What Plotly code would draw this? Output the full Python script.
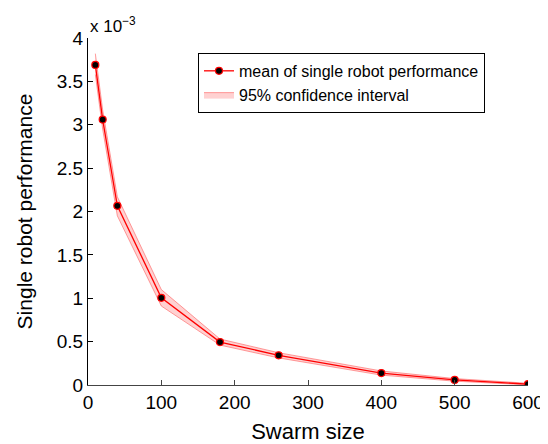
import plotly.graph_objects as go

swarm_size = [10, 20, 40, 100, 180, 260, 400, 500, 600]
mean_perf = [3.69, 3.06, 2.065, 1.005, 0.495, 0.342, 0.138, 0.058, 0.010]
ci_upper = [3.82, 3.17, 2.17, 1.10, 0.530, 0.372, 0.162, 0.074, 0.020]
ci_lower = [3.58, 2.95, 1.95, 0.91, 0.460, 0.312, 0.114, 0.044, 0.002]

FONT = "Liberation Sans, Arial, sans-serif"

fig = go.Figure()
band_x = swarm_size + swarm_size[::-1]
band_y = ci_upper + ci_lower[::-1]
fig.add_trace(go.Scatter(
    x=band_x, y=band_y, fill="toself", mode="lines",
    fillcolor="rgba(255,0,0,0.18)",
    line=dict(color="rgba(255,80,80,0.55)", width=1),
    name="95% confidence interval", legendrank=2, hoverinfo="skip",
))
fig.add_trace(go.Scatter(
    x=swarm_size, y=mean_perf, mode="lines+markers",
    line=dict(color="red", width=1.3),
    marker=dict(color="black", size=7, line=dict(color="red", width=1.2)),
    name="mean of single robot performance", legendrank=1,
))

# page body has an 8px margin, so the figure is sized/offset accordingly
fig.update_layout(
    width=540, height=436,
    margin=dict(l=80, r=20, t=30, b=59),
    plot_bgcolor="white", paper_bgcolor="white",
    font=dict(family=FONT, size=19, color="black"),
    showlegend=True,
    legend=dict(
        x=0.25, y=0.957, xanchor="left", yanchor="top",
        bordercolor="black", borderwidth=1, bgcolor="white",
        font=dict(size=16), tracegroupgap=0,
        itemwidth=30,
    ),
    xaxis=dict(
        range=[0, 600], tickvals=[0, 100, 200, 300, 400, 500, 600],
        showgrid=False, zeroline=False, showline=True, linecolor="#444", linewidth=1,
        ticks="inside", ticklen=5, tickcolor="#444", automargin=False,
        title=dict(text="Swarm size", font=dict(size=22), standoff=16),
        tickfont=dict(size=19),
    ),
    yaxis=dict(
        range=[0, 4], tickvals=[0, 0.5, 1, 1.5, 2, 2.5, 3, 3.5, 4],
        ticktext=["0", "0.5", "1", "1.5", "2", "2.5", "3", "3.5", "4"],
        showgrid=False, zeroline=False, showline=True, linecolor="black", linewidth=1,
        ticks="inside", ticklen=5, tickcolor="black", automargin=False,
        title=dict(text="Single robot performance", font=dict(size=21), standoff=18),
        tickfont=dict(size=19),
    ),
    annotations=[dict(
        x=0, y=1, xref="paper", yref="paper", xanchor="left", yanchor="bottom",
        text="x 10<sup>−3</sup>", showarrow=False, font=dict(size=17), yshift=0,
    )],
)

fig.write_html("out.html")
